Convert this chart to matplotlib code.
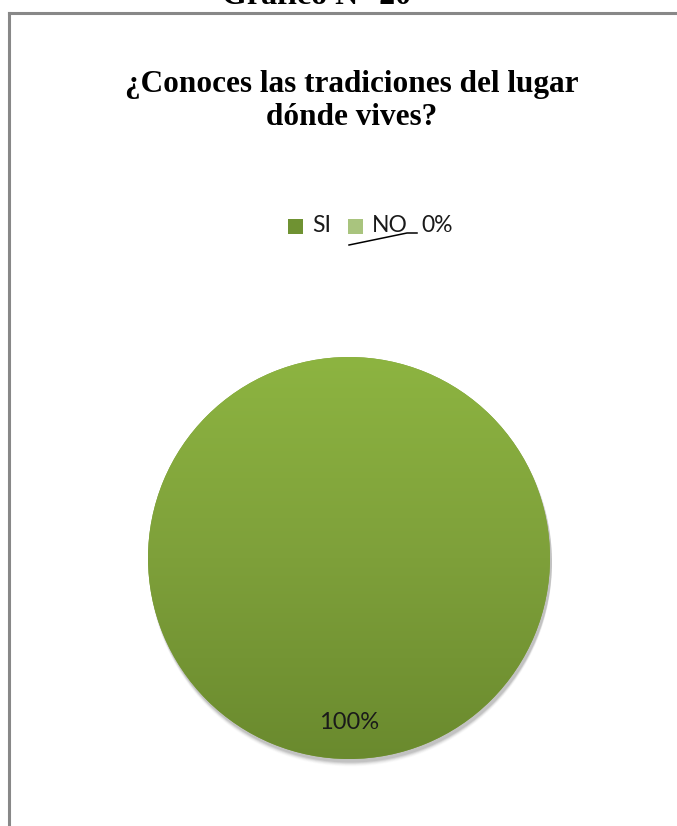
import matplotlib
matplotlib.use("Agg")
import matplotlib.pyplot as plt
import numpy as np
from matplotlib.patches import Rectangle
from matplotlib.lines import Line2D
from matplotlib.colors import LinearSegmentedColormap

categories = ["SI", "NO"]
values = [100, 0]
pct_labels = ["100%", "0%"]
title = "¿Conoces las tradiciones del lugar\ndónde vives?"
header = "Gráfico N° 20"

W, H = 677, 826
fig = plt.figure(figsize=(W / 100, H / 100), dpi=100)
ax = fig.add_axes([0, 0, 1, 1])
ax.set_xlim(0, W)
ax.set_ylim(0, H)
ax.axis("off")

def Y(py):
    return H - py

# frame
ax.add_line(Line2D([9, 9], [Y(13), 0], color="#888888", lw=2.2))
ax.add_line(Line2D([9, W], [Y(13), Y(13)], color="#888888", lw=2.2))

# header (cut off at the top, as in the reference)
ax.text(317, Y(4), header, ha="center", va="baseline", fontsize=23, fontweight="bold",
        family="Liberation Serif", color="black")

# title
ax.text(352, Y(101), title, ha="center", va="center", fontsize=22.5, fontweight="bold",
        family="Liberation Serif", color="black", linespacing=1.22)

cx, cy, r = 349, Y(558), 201

# shadow
for i, a in enumerate(np.linspace(0.07, 0.015, 6)):
    sh = plt.Circle((cx + 1.5, cy - 3 - i * 0.8), r + 0.5, color="black", alpha=a, lw=0, zorder=1)
    ax.add_patch(sh)

wedges, texts, autotexts = ax.pie(values, colors=["#7fa03a", "#a9c47e"], startangle=90,
                                  counterclock=True, radius=r, center=(cx, cy),
                                  autopct="", pctdistance=0.82,
                                  wedgeprops=dict(lw=0), frame=True)
ax.set_xlim(0, W)
ax.set_ylim(0, H)
ax.set_aspect("auto")
ax.axis("off")

# gradient fill for SI
cmap = LinearSegmentedColormap.from_list("g", ["#8db441", "#7ea03a", "#6a8a2e"])
grad = np.linspace(0, 1, 256).reshape(-1, 1)
im = ax.imshow(grad, cmap=cmap, extent=[cx - r, cx + r, cy - r, cy + r], origin="upper",
               aspect="auto", zorder=3)
im.set_clip_path(wedges[0])
ax.set_xlim(0, W)
ax.set_ylim(0, H)

# 100% label via wedge midpoint
th = np.deg2rad((wedges[0].theta1 + wedges[0].theta2) / 2)
ax.text(cx + 0.82 * r * np.cos(th), cy + 0.82 * r * np.sin(th), pct_labels[0],
        ha="center", va="center", fontsize=17, family="Lato", color="#1a1a1a", zorder=5)

# legend
lx = [295, 355]
lc = ["#6f9232", "#a9c47e"]
for x, c, lab in zip(lx, lc, categories):
    ax.add_patch(Rectangle((x - 7.5, Y(226) - 7.5), 15, 15, color=c, lw=0, zorder=5))
    ax.text(x + 17, Y(225), lab, ha="left", va="center", fontsize=16.5, family="Lato",
            color="#1a1a1a", zorder=5)

# 0% label with leader line
ax.add_line(Line2D([349, 407, 417], [Y(245), Y(233), Y(233)], color="black", lw=1.1, zorder=5))
ax.text(421, Y(225), pct_labels[1], ha="left", va="center", fontsize=16.5, family="Lato",
        color="#1a1a1a", zorder=5)

fig.savefig("out.png", dpi=100)
